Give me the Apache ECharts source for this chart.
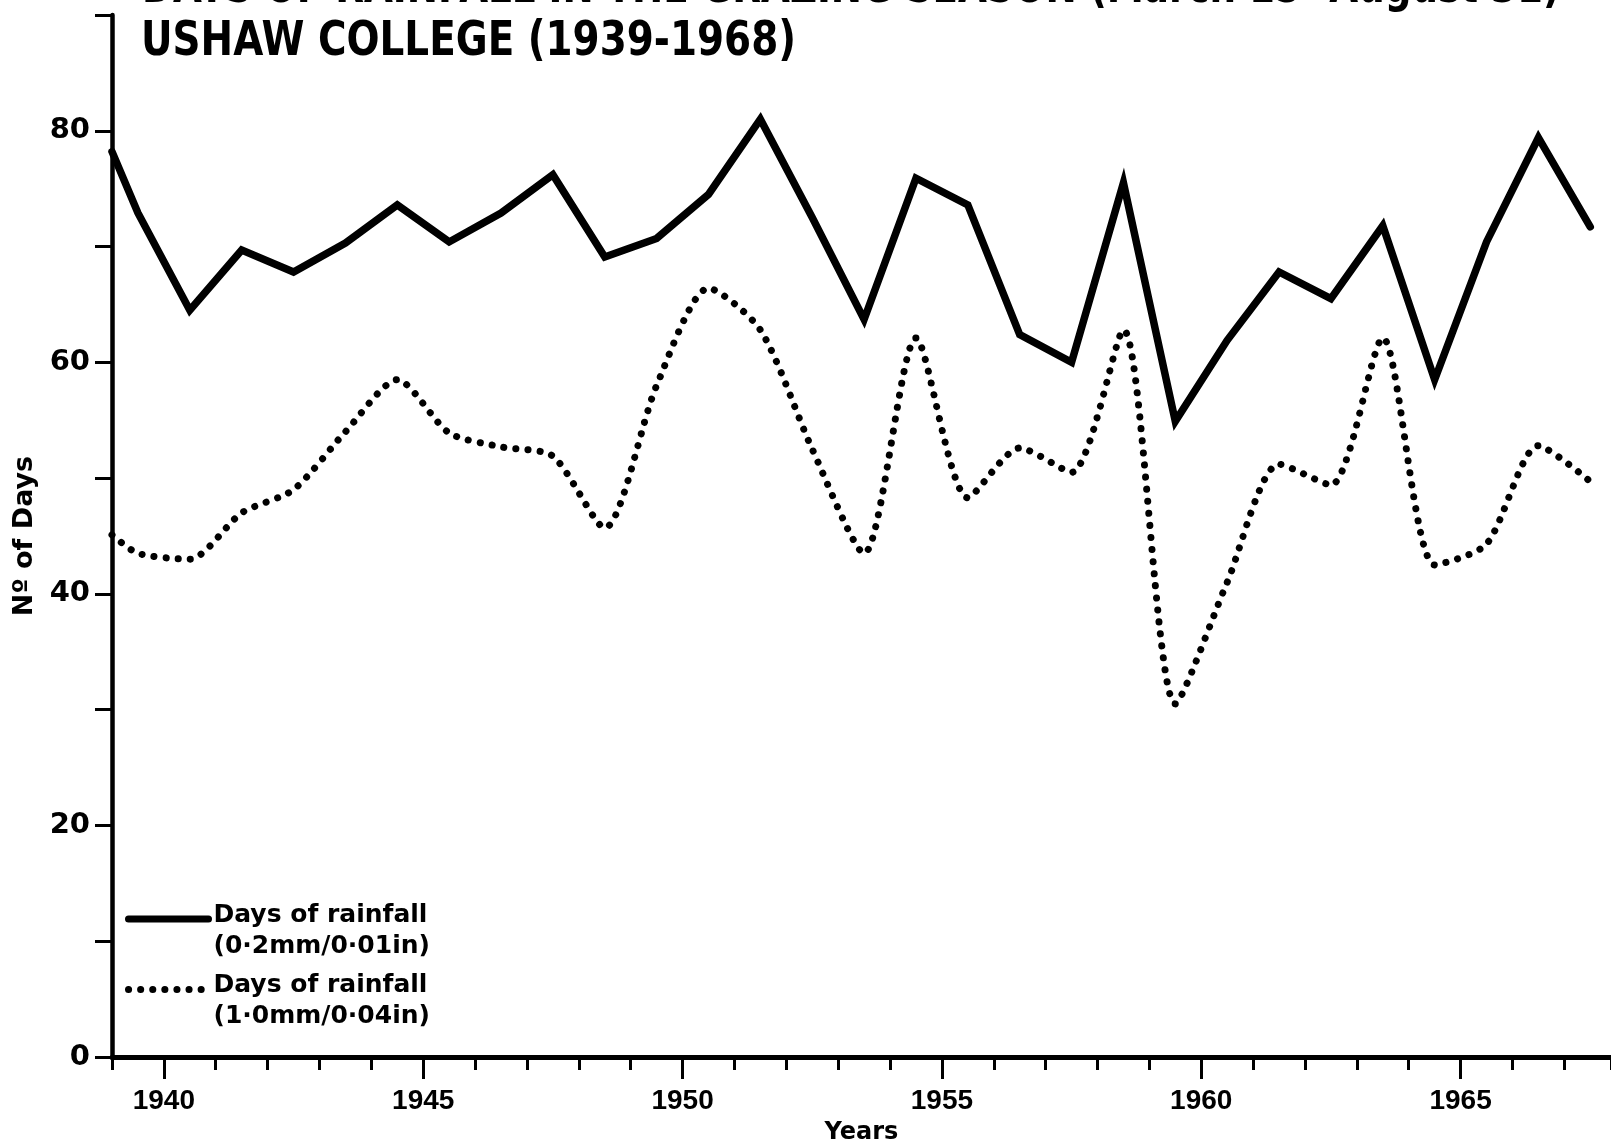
<!DOCTYPE html>
<html>
<head>
<meta charset="utf-8">
<title>Days of rainfall - Ushaw College 1939-1968</title>
<script src="https://cdn.jsdelivr.net/npm/echarts@6/dist/echarts.min.js"></script>
<style>
  html, body { margin: 0; padding: 0; background: #fff; }
  #chart { width: 1611px; height: 1146px; }
</style>
</head>
<body>
<div id="chart"></div>
<script>
// readings taken off the graph: each season is plotted half way through the year,
// the first one sits on the axis
var pointYear = [1939, 1939.5, 1940.5, 1941.5, 1942.5, 1943.5, 1944.5, 1945.5, 1946.5, 1947.5,
                 1948.5, 1949.5, 1950.5, 1951.5, 1952.5, 1953.5, 1954.5, 1955.5, 1956.5, 1957.5,
                 1958.5, 1959.5, 1960.5, 1961.5, 1962.5, 1963.5, 1964.5, 1965.5, 1966.5, 1967.5];

// days with at least 0.2mm / 0.01in
var daysOver02 = [78.2, 72.9, 64.5, 69.7, 67.8, 70.3, 73.6, 70.4, 72.9, 76.2,
                  69.1, 70.7, 74.5, 81.0, 72.5, 63.7, 75.9, 73.6, 62.4, 60.0,
                  75.5, 54.9, 61.9, 67.8, 65.5, 71.8, 58.5, 70.4, 79.4, 71.7];

// days with at least 1.0mm / 0.04in
var daysOver10 = [45.1, 43.5, 43.0, 47.0, 49.0, 54.0, 58.5, 53.9, 52.7, 51.9,
                  45.7, 58.0, 66.4, 62.8, 52.5, 43.5, 62.1, 48.3, 52.6, 50.5,
                  62.8, 30.5, 41.0, 51.2, 49.4, 62.1, 42.5, 44.3, 52.8, 49.7];

var yearLabels = [1940, 1945, 1950, 1955, 1960, 1965];
var dayLabels = [0, 20, 40, 60, 80];

var seriesNames = ['Days of rainfall\n(0·2mm/0·01in)', 'Days of rainfall\n(1·0mm/0·04in)'];
var titleLines = ['DAYS OF RAINFALL IN THE GRAZING SEASON (March 15- August 31)',
                  'USHAW COLLEGE (1939-1968)'];

function pairs(vals) {
    return pointYear.map(function (x, i) { return [x, vals[i]]; });
}

// squeeze the lettering to the width it has on the drawing
var titleFont = 'bold 48px "DejaVu Sans"';
function squeeze(text, width) {
    var ctx = document.createElement('canvas').getContext('2d');
    ctx.font = titleFont;
    return width / ctx.measureText(text).width;
}

var chart = echarts.init(document.getElementById('chart'));

var option = {
    animation: false,
    backgroundColor: '#fff',
    textStyle: { fontFamily: 'DejaVu Sans', color: '#000' },
    graphic: [
        {
            type: 'text', x: 142, y: -10, scaleX: squeeze(titleLines[0], 1418),
            style: { text: titleLines[0], font: titleFont, fill: '#000', verticalAlign: 'middle' }
        },
        {
            type: 'text', x: 141, y: 43, scaleX: squeeze(titleLines[1], 655),
            style: { text: titleLines[1], font: titleFont, fill: '#000', verticalAlign: 'middle' }
        }
    ],
    grid: { left: 112, right: 0, top: 15, bottom: 89, containLabel: false, outerBoundsMode: 'none' },
    legend: {
        orient: 'vertical',
        left: 125,
        top: 887,
        padding: 0,
        itemWidth: 80,
        itemHeight: 14,
        itemGap: -1,
        selectedMode: false,
        itemStyle: { opacity: 0 },
        lineStyle: { width: 7 },
        // blank first row so the key line sits level with the first line of its text
        formatter: function (name) {
            var rows = name.split('\n');
            return '{gap| }\n{t|' + rows[0] + '}\n{t|' + rows[1] + '}';
        },
        textStyle: {
            rich: {
                gap: { fontSize: 2, lineHeight: 23 },
                t: { fontFamily: 'DejaVu Sans', fontWeight: 'bold', fontSize: 25, lineHeight: 31, color: '#000' }
            }
        },
        data: seriesNames
    },
    xAxis: [
        {
            type: 'value',
            min: 1939,
            max: 1967.9,
            interval: 1,
            name: 'Years',
            nameLocation: 'middle',
            nameGap: 64,
            nameTextStyle: { fontFamily: 'DejaVu Sans', fontWeight: 'bold', fontSize: 24, color: '#000' },
            axisLine: { onZero: false, lineStyle: { color: '#000', width: 5 } },
            axisTick: { length: 13, lineStyle: { color: '#000', width: 3 } },
            axisLabel: { show: false },
            splitLine: { show: false }
        },
        {
            type: 'value',
            min: 1939,
            max: 1967.9,
            position: 'bottom',
            axisLine: { show: false, onZero: false },
            axisTick: { customValues: yearLabels, length: 22, lineStyle: { color: '#000', width: 3 } },
            axisLabel: {
                customValues: yearLabels, margin: 30,
                formatter: function (v) { return String(v); },
                fontFamily: 'Liberation Sans', fontWeight: 'bold', fontSize: 28, color: '#000'
            },
            splitLine: { show: false }
        }
    ],
    yAxis: {
        type: 'value',
        min: 0,
        max: 90,
        interval: 10,
        name: 'Nº of Days',
        nameLocation: 'middle',
        nameRotate: 90,
        nameGap: 58,
        nameTextStyle: { fontFamily: 'DejaVu Sans', fontWeight: 'bold', fontSize: 27, color: '#000' },
        axisLine: { show: true, onZero: false, lineStyle: { color: '#000', width: 4.5 } },
        axisTick: { length: 17, lineStyle: { color: '#000', width: 3 } },
        axisLabel: {
            customValues: dayLabels, margin: 22,
            fontFamily: 'DejaVu Sans', fontWeight: 'bold', fontSize: 29, color: '#000'
        },
        splitLine: { show: false }
    },
    series: [
        {
            name: seriesNames[0],
            type: 'line',
            data: pairs(daysOver02),
            symbol: 'none',
            z: 3,
            itemStyle: { color: '#000' },
            lineStyle: { color: '#000', width: 7.5, join: 'miter', cap: 'round' }
        },
        {
            name: seriesNames[1],
            type: 'line',
            data: pairs(daysOver10),
            symbol: 'none',
            smooth: 0.25,
            itemStyle: { color: '#000' },
            lineStyle: { color: '#000', width: 7, type: [0.1, 12], cap: 'round' }
        }
    ]
};

chart.setOption(option);
</script>
</body>
</html>
